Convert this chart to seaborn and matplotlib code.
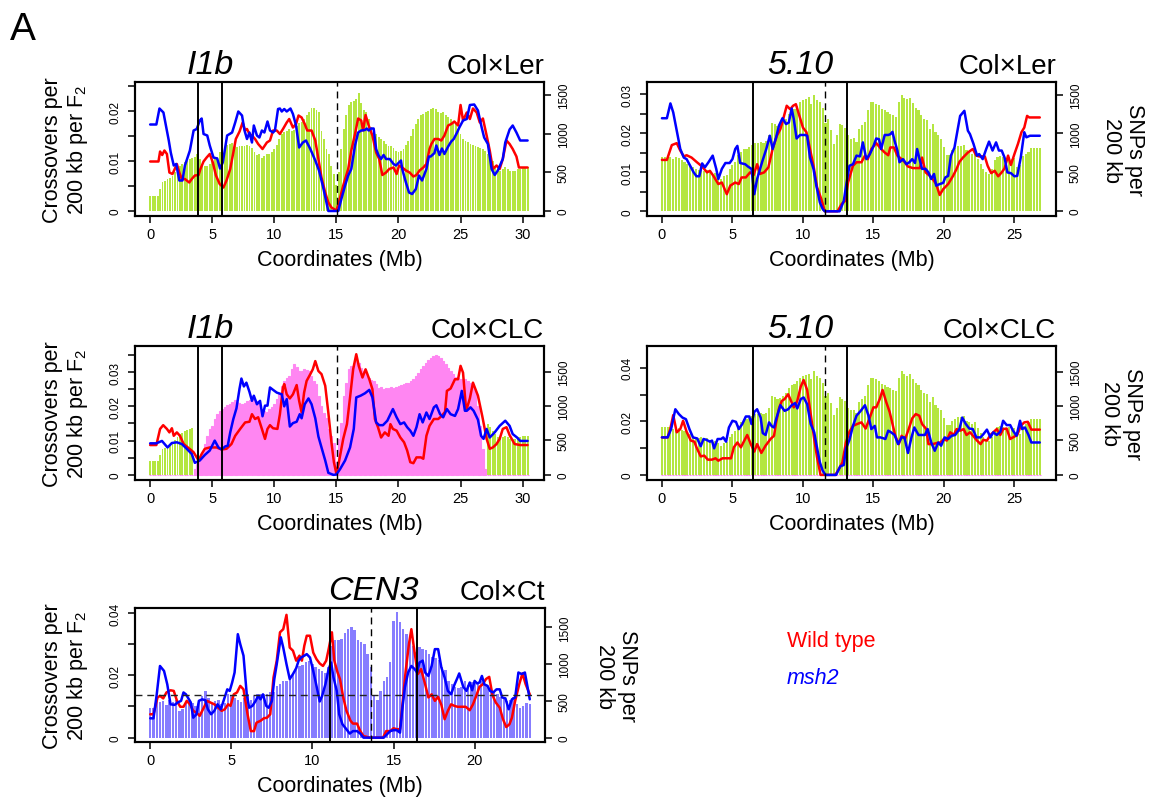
import numpy as np
import matplotlib
matplotlib.use("Agg")
import matplotlib.pyplot as plt
import matplotlib.transforms as mtransforms
import seaborn as sns

sns.set_style("ticks")
plt.rcParams['font.family'] = ['Liberation Sans', 'DejaVu Sans']
plt.rcParams['mathtext.fontset'] = 'custom'
plt.rcParams['mathtext.rm'] = 'Liberation Sans'
plt.rcParams['mathtext.it'] = 'Liberation Sans:italic'
for k in ('text.color', 'axes.labelcolor', 'xtick.color', 'ytick.color', 'axes.edgecolor'):
    plt.rcParams[k] = 'black'

BIN = 0.2  # 200 kb windows (Mb)

# ------------------------------------------------------------------ data
# SNPs per 200 kb window
ler_chr3_snps = [190,190,190,190,285,370,390,415,420,455,500,545,585,610,630,650,670,680,695,735,
                 670,585,580,585,610,650,670,695,760,800,825,855,865,880,835,825,845,845,835,855,
                 835,810,760,725,735,680,705,735,735,765,800,855,930,995,1015,1040,1060,1040,1050,1100,
                 1140,1145,1190,1235,1285,1330,1330,1310,1275,1040,930,800,735,585,480,330,500,800,1060,1235,
                 1370,1405,1425,1450,1520,1400,1300,1285,1190,1080,1040,995,950,930,910,865,845,835,810,780,
                 760,780,800,855,910,975,1060,1125,1190,1235,1255,1275,1295,1320,1330,1320,1285,1265,1275,1235,
                 1210,1190,1145,1125,1060,995,930,910,890,865,855,835,825,810,800,780,735,695,640,585,
                 545,520,545,565,545,520,520,520,545,545,565,565,565]
clc_chr3_snps = [0]*18 + [78,150,223,320,442,563,660,709,806,879,927,951,990,1010,1024,1058,1087,1058,1039,1024,
                 1039,1073,1087,1087,1121,1073,1024,951,927,913,951,990,1024,1097,1170,1291,1364,1413,1437,1534,
                 1607,1573,1510,1510,1534,1524,1510,1437,1364,1316,1146,1000,903,816,660,563,466,175,515,757,
                 1146,1340,1534,1583,1631,1655,1631,1558,1510,1461,1413,1379,1364,1316,1267,1282,1252,1267,1267,1282,
                 1267,1282,1291,1301,1316,1330,1340,1364,1388,1437,1485,1534,1583,1631,1670,1704,1728,1738,1728,1704,
                 1655,1607,1558,1510,1461,1427,1413,1388,1398,1388,1364,1340,1291,1218,1000,709,369,78] + [0]*17
ler_chr5_snps = [697,697,697,697,667,697,684,654,632,611,589,568,546,525,546,512,525,503,469,495,
                 460,417,452,469,546,589,632,718,761,804,804,826,847,882,882,890,882,899,976,1140,
                 1127,1097,1114,1148,1191,1256,1299,1320,1355,1406,1428,1449,1471,1385,1501,1428,1406,1329,1140,1191,
                 1041,869,976,1127,1105,1071,976,933,942,890,1054,1105,1148,1299,1406,1406,1385,1363,1320,1299,
                 1277,1256,1234,1213,1406,1501,1458,1441,1458,1398,1329,1299,1234,1191,1170,1062,1127,1019,976,933,
                 826,718,727,783,813,839,839,856,783,761,740,761,675,611,546,503,482,546,654,697,
                 710,697,684,697,675,684,568,589,710,740,761,813,813,813,813]
clc_chr5_snps = [0]*135
ct_chr3_snps = [400,400,545,491,500,445,509,491,509,364,386,477,455,477,432,509,568,636,536,477,
                500,509,455,477,591,568,536,509,491,536,591,509,568,591,600,591,600,614,627,705,
                736,764,773,841,873,918,977,991,1023,1045,1000,955,932,909,886,964,1250,1327,1327,1341,
                1418,1477,1509,1464,1327,1295,1273,1136,955,568,509,636,773,827,1023,1591,1705,1568,1477,1409,
                1341,1250,1159,1227,1205,1191,1136,1100,1082,1055,955,918,764,736,682,673,691,764,718,750,
                736,750,764,736,705,682,627,591,555,523,500,509,555,455,409,432,477,455]

# Crossovers per 200 kb per F2 : I1b, Col x Ler
i1b_ler_wt_x = [0,0.67,0.8,0.97,1.15,1.35,1.55,1.8,1.98,2.15,2.35,2.55,2.8,3.15,3.35,3.6,3.9,4.05,4.3,4.55,
                4.8,5.05,5.3,5.6,5.9,6.15,6.45,6.7,6.9,7.2,7.45,7.65,7.8,8.0,8.2,8.45,8.7,9.05,9.4,9.65,
                9.9,10.2,10.45,10.7,11.0,11.2,11.5,11.75,11.95,12.2,12.45,12.65,13.0,13.3,13.55,13.8,14.1,14.35,14.6,15.0,
                15.2,15.55,15.95,16.2,16.5,16.75,17.0,17.15,17.35,17.6,17.9,18.2,18.45,18.7,19.0,19.25,19.6,19.85,20.05,20.3,
                20.6,20.9,21.2,21.45,21.7,22.0,22.25,22.5,22.65,22.9,23.2,23.45,23.7,24.0,24.25,24.5,24.8,25.0,25.2,25.5,
                25.75,26.0,26.3,26.55,26.8,27.1,27.35,27.6,27.9,28.15,28.4,28.7,28.95,29.2,29.5,29.7,30.4]
i1b_ler_wt_y = [0.0099,0.0099,0.0119,0.0112,0.0121,0.0114,0.0077,0.0074,0.0084,0.0094,0.0077,0.0064,0.0064,0.0057,0.0064,0.0071,0.0072,0.0084,0.0099,0.0107,
                0.0114,0.0097,0.0071,0.0054,0.0047,0.0061,0.0084,0.0117,0.0144,0.0159,0.0177,0.0161,0.0164,0.0154,0.0151,0.0144,0.0134,0.0124,0.0137,0.0141,
                0.0161,0.0161,0.0154,0.0164,0.0177,0.0184,0.0167,0.0174,0.0191,0.0187,0.0174,0.0161,0.0161,0.0141,0.0104,0.0067,0.0037,0.0017,0.0007,0.0001,
                0.0017,0.0051,0.0084,0.0121,0.0154,0.0185,0.0181,0.0161,0.0192,0.0171,0.0151,0.0117,0.0104,0.0072,0.0077,0.0084,0.0087,0.0074,0.0091,0.0087,
                0.0081,0.0077,0.0069,0.0072,0.0081,0.0087,0.0094,0.0124,0.0134,0.0144,0.0144,0.0141,0.0151,0.0171,0.0174,0.0179,0.0171,0.0212,0.0181,0.0197,
                0.0184,0.0205,0.0197,0.0177,0.0185,0.0151,0.0121,0.0084,0.0091,0.0084,0.0104,0.0141,0.0134,0.0124,0.0109,0.0087,0.0087]
i1b_ler_msh2_x = [0,0.5,0.75,1.07,1.3,1.5,1.66,1.9,2.1,2.35,2.6,2.8,3.2,3.5,3.75,4.0,4.15,4.3,4.6,4.8,
                  5.1,5.4,5.63,5.85,6.2,6.6,6.85,7.1,7.4,7.6,7.8,8.0,8.2,8.35,8.6,8.8,9.0,9.2,9.45,9.65,
                  9.9,10.05,10.3,10.45,10.6,10.8,11.0,11.3,11.5,11.75,12.0,12.3,12.55,12.9,13.3,13.6,13.9,14.2,14.35,15.15,
                  15.4,15.7,15.95,16.2,16.5,16.75,17.0,17.3,17.45,17.6,17.8,18.0,18.2,18.4,18.6,18.8,19.0,19.3,19.6,19.8,
                  20.2,20.3,20.6,20.85,21.1,21.4,21.65,21.9,22.25,22.45,22.6,22.9,23.05,23.3,23.5,23.7,24.0,24.25,24.45,24.7,
                  24.9,25.2,25.5,25.75,26.1,26.4,26.7,26.9,27.2,27.5,27.75,28.0,28.4,28.6,28.95,29.2,29.5,29.8,30.4]
i1b_ler_msh2_y = [0.0173,0.0173,0.0205,0.0197,0.0167,0.0141,0.0117,0.0091,0.0094,0.0061,0.0061,0.0091,0.0121,0.0161,0.0164,0.0181,0.0185,0.0154,0.0151,0.0131,
                  0.0107,0.0105,0.0085,0.0097,0.0151,0.0157,0.0177,0.0199,0.0191,0.0161,0.0144,0.0157,0.0137,0.0171,0.0151,0.0147,0.0161,0.0157,0.0179,0.0161,
                  0.0157,0.0161,0.0204,0.0205,0.0199,0.0204,0.0199,0.0205,0.0194,0.0171,0.0127,0.0137,0.0141,0.0124,0.0101,0.0081,0.0051,0.0017,0.0,0.0,
                  0.0024,0.0051,0.0071,0.0084,0.0131,0.0157,0.0161,0.0162,0.0165,0.0161,0.0165,0.0165,0.0124,0.0111,0.0104,0.0112,0.0104,0.0104,0.0094,0.0091,
                  0.0101,0.0084,0.0057,0.0037,0.0034,0.0044,0.0071,0.0061,0.0084,0.0109,0.0109,0.0116,0.0131,0.0112,0.0125,0.0114,0.0129,0.0139,0.0144,0.0156,
                  0.0167,0.0181,0.0184,0.0212,0.0213,0.0201,0.0167,0.0147,0.0134,0.0084,0.0072,0.0081,0.0104,0.0137,0.0163,0.0171,0.0157,0.0141,0.0141]

# 5.10, Col x Ler
c510_ler_wt_x = [0,0.35,0.7,1.05,1.3,1.55,1.75,2.1,2.45,2.85,3.2,3.4,3.65,4.0,4.25,4.6,4.85,5.2,5.45,5.65,
                 5.95,6.25,6.5,6.75,6.95,7.25,7.55,7.85,8.15,8.4,8.6,8.85,9.1,9.3,9.5,9.75,10.0,10.25,10.5,10.75,
                 11.0,11.3,11.55,12.45,12.75,13.0,13.2,13.55,13.8,14.15,14.4,14.6,14.85,15.2,15.55,15.8,16.05,16.2,16.45,16.7,
                 17.0,17.2,17.45,17.8,18.3,18.45,18.7,19.0,19.2,19.45,19.7,19.95,20.3,20.65,20.9,21.1,21.35,21.7,22.05,22.3,
                 22.5,22.9,23.1,23.35,23.6,23.85,24.1,24.3,24.55,24.75,25.0,25.25,25.5,25.7,25.9,26.05,26.8]
c510_ler_wt_y = [0.0132,0.0132,0.0170,0.0175,0.0156,0.0141,0.0144,0.0138,0.0127,0.0115,0.0100,0.0104,0.0091,0.0070,0.0074,0.0044,0.0066,0.0074,0.0070,0.0087,
                 0.0087,0.0100,0.0093,0.0121,0.0096,0.0100,0.0113,0.0160,0.0194,0.0211,0.0237,0.0271,0.0262,0.0271,0.0275,0.0245,0.0215,0.0203,0.0160,0.0117,
                 0.0062,0.0032,0.0,0.0,0.0019,0.0027,0.0074,0.0117,0.0126,0.0126,0.0143,0.0134,0.0160,0.0175,0.0160,0.0151,0.0144,0.0164,0.0164,0.0143,
                 0.0134,0.0127,0.0115,0.0111,0.0111,0.0138,0.0100,0.0091,0.0083,0.0070,0.0042,0.0057,0.0070,0.0091,0.0109,0.0127,0.0138,0.0151,0.0160,0.0143,
                 0.0141,0.0141,0.0117,0.0098,0.0104,0.0090,0.0100,0.0110,0.0143,0.0119,0.0147,0.0173,0.0203,0.0215,0.0245,0.0241,0.0241]
c510_ler_msh2_x = [0,0.35,0.6,0.8,1.05,1.3,1.55,1.75,2.0,2.25,2.45,2.65,2.85,3.05,3.3,3.6,3.85,4.0,4.25,4.5,
                   4.8,5.0,5.2,5.35,5.55,5.9,6.1,6.35,6.55,6.75,7.1,7.4,7.65,7.85,8.1,8.3,8.55,8.8,9.0,9.2,
                   9.35,9.55,9.8,10.15,10.3,10.5,10.75,10.95,11.2,11.4,11.55,12.6,12.9,13.1,13.3,13.55,13.8,14.05,14.25,14.5,
                   14.75,15.0,15.2,15.4,15.55,15.8,16.05,16.2,16.35,16.5,16.7,16.85,17.1,17.35,17.55,17.75,17.95,18.1,18.3,18.45,
                   18.7,18.9,19.1,19.3,19.45,19.7,19.95,20.1,20.3,20.5,20.75,21.0,21.15,21.45,21.7,21.85,22.1,22.35,22.5,22.75,
                   23.0,23.2,23.45,23.7,23.9,24.1,24.3,24.5,24.75,25.0,25.2,25.45,25.7,25.85,26.1,26.8]
c510_ler_msh2_y = [0.0239,0.0239,0.0277,0.0254,0.0207,0.0160,0.0138,0.0134,0.0117,0.0100,0.0090,0.0090,0.0123,0.0113,0.0126,0.0143,0.0109,0.0083,0.0109,0.0124,
                   0.0124,0.0134,0.0160,0.0168,0.0124,0.0121,0.0115,0.0109,0.0044,0.0083,0.0126,0.0160,0.0194,0.0160,0.0190,0.0220,0.0239,0.0224,0.0228,0.0264,
                   0.0237,0.0187,0.0196,0.0196,0.0194,0.0138,0.0109,0.0066,0.0023,0.0006,0.0,0.0,0.0027,0.0074,0.0117,0.0121,0.0143,0.0141,0.0177,0.0134,
                   0.0147,0.0167,0.0187,0.0185,0.0160,0.0196,0.0196,0.0198,0.0204,0.0181,0.0156,0.0126,0.0134,0.0121,0.0126,0.0134,0.0124,0.0160,0.0130,0.0109,
                   0.0109,0.0100,0.0083,0.0096,0.0066,0.0070,0.0073,0.0087,0.0091,0.0143,0.0164,0.0215,0.0245,0.0258,0.0207,0.0198,0.0173,0.0143,0.0147,0.0134,
                   0.0160,0.0179,0.0156,0.0177,0.0156,0.0156,0.0138,0.0100,0.0098,0.0090,0.0091,0.0138,0.0203,0.0190,0.0194,0.0194]

# I1b, Col x CLC
i1b_clc_wt_x = [0,0.5,0.8,1.05,1.35,1.55,1.75,1.9,2.15,2.4,2.7,3.1,3.5,3.9,4.15,4.4,4.8,5.35,5.75,6.15,
                6.55,6.85,7.25,7.65,8.0,8.2,8.45,8.7,9.0,9.25,9.45,9.65,9.9,10.25,10.45,10.7,10.8,11.0,11.25,11.5,
                11.8,12.0,12.2,12.4,12.6,12.9,13.1,13.3,13.55,13.8,14.1,14.35,14.6,14.8,15.0,15.2,15.55,15.85,16.1,16.35,
                16.6,16.8,17.1,17.35,17.65,17.9,18.1,18.35,18.6,18.9,19.2,19.35,19.55,19.85,20.15,20.45,20.7,20.95,21.2,21.45,
                21.8,22.0,22.25,22.5,22.85,23.2,23.45,23.75,23.9,24.2,24.55,24.8,25.0,25.2,25.45,25.75,26.0,26.4,26.75,27.1,
                27.35,27.6,27.9,28.15,28.4,28.7,28.95,29.35,29.8,30.4]
i1b_clc_wt_y = [0.0087,0.0087,0.0134,0.0145,0.0134,0.0124,0.0136,0.0114,0.0124,0.0114,0.0090,0.0078,0.0066,0.0042,0.0061,0.0076,0.0080,0.0080,0.0074,0.0076,
                0.0090,0.0114,0.0134,0.0153,0.0155,0.0177,0.0163,0.0168,0.0134,0.0105,0.0134,0.0145,0.0136,0.0134,0.0177,0.0255,0.0265,0.0235,0.0223,0.0235,
                0.0262,0.0216,0.0182,0.0240,0.0274,0.0294,0.0308,0.0332,0.0303,0.0294,0.0260,0.0182,0.0095,0.0037,0.0003,0.0037,0.0105,0.0148,0.0226,0.0308,
                0.0352,0.0318,0.0284,0.0308,0.0279,0.0250,0.0163,0.0139,0.0109,0.0124,0.0114,0.0148,0.0134,0.0129,0.0109,0.0095,0.0071,0.0037,0.0034,0.0051,
                0.0051,0.0047,0.0114,0.0143,0.0163,0.0163,0.0171,0.0184,0.0245,0.0252,0.0279,0.0279,0.0318,0.0298,0.0187,0.0223,0.0269,0.0231,0.0171,0.0105,
                0.0076,0.0080,0.0090,0.0105,0.0134,0.0139,0.0116,0.0090,0.0087,0.0087]
i1b_clc_msh2_x = [0,0.5,0.95,1.4,1.75,2.15,2.55,2.95,3.35,3.6,4.0,4.4,4.8,5.2,5.5,5.75,6.05,6.25,6.45,6.7,
                  6.95,7.2,7.35,7.55,7.75,8.0,8.2,8.35,8.6,8.85,9.05,9.25,9.45,9.65,9.9,10.2,10.6,10.8,11.0,11.25,
                  11.5,11.8,12.05,12.2,12.45,12.75,13.0,13.3,13.55,13.8,14.1,14.35,14.75,15.0,15.3,15.7,16.1,16.4,16.6,16.95,
                  17.3,17.65,17.9,18.2,18.45,18.75,19.1,19.55,19.85,20.15,20.45,20.7,20.95,21.2,21.45,21.7,21.95,22.25,22.5,22.85,
                  23.05,23.35,23.6,23.9,24.2,24.55,24.8,25.1,25.35,25.5,25.8,26.05,26.4,26.65,26.85,27.1,27.35,27.75,28.15,28.6,
                  28.95,29.2,29.55,29.8,30.4]
i1b_clc_msh2_y = [0.0092,0.0092,0.0099,0.0080,0.0093,0.0095,0.0090,0.0076,0.0061,0.0035,0.0042,0.0058,0.0071,0.0100,0.0080,0.0074,0.0083,0.0085,0.0124,0.0163,
                  0.0194,0.0252,0.0281,0.0258,0.0269,0.0242,0.0216,0.0231,0.0206,0.0216,0.0171,0.0202,0.0202,0.0255,0.0248,0.0240,0.0235,0.0200,0.0221,0.0141,
                  0.0151,0.0155,0.0177,0.0165,0.0206,0.0223,0.0206,0.0165,0.0112,0.0080,0.0042,0.0006,0.0,0.0001,0.0017,0.0042,0.0080,0.0134,0.0226,0.0231,
                  0.0238,0.0248,0.0226,0.0153,0.0145,0.0145,0.0158,0.0192,0.0168,0.0148,0.0153,0.0139,0.0129,0.0114,0.0139,0.0177,0.0153,0.0182,0.0163,0.0197,
                  0.0203,0.0177,0.0168,0.0192,0.0177,0.0172,0.0192,0.0245,0.0187,0.0187,0.0197,0.0187,0.0161,0.0114,0.0105,0.0134,0.0109,0.0124,0.0143,0.0158,
                  0.0143,0.0119,0.0109,0.0099,0.0099]

# 5.10, Col x CLC
c510_clc_wt_x = [0,0.4,0.6,0.8,1.05,1.3,1.5,1.75,2.05,2.3,2.45,2.75,3.0,3.25,3.55,3.8,4.0,4.3,4.6,4.9,
                 5.1,5.35,5.6,5.9,6.05,6.3,6.55,6.75,7.05,7.35,7.7,7.95,8.1,8.3,8.5,8.7,8.95,9.1,9.35,9.6,
                 9.85,10.05,10.3,10.55,10.8,11.0,11.25,12.3,12.55,12.8,13.05,13.3,13.55,13.85,14.15,14.45,14.7,15.0,15.2,15.45,
                 15.65,15.9,16.15,16.3,16.55,16.8,17.0,17.25,17.5,17.75,18.0,18.25,18.45,18.75,18.9,19.2,19.5,19.75,20.0,20.2,
                 20.45,20.7,20.9,21.15,21.4,21.6,21.85,22.1,22.35,22.6,22.8,23.05,23.3,23.5,23.75,24.0,24.2,24.45,24.7,24.9,
                 25.2,25.45,25.7,25.95,26.2,26.8]
c510_clc_wt_y = [0.0140,0.0140,0.0173,0.0223,0.0159,0.0171,0.0202,0.0161,0.0128,0.0124,0.0103,0.0069,0.0072,0.0057,0.0057,0.0062,0.0053,0.0062,0.0062,0.0062,
                 0.0103,0.0121,0.0103,0.0134,0.0149,0.0115,0.0087,0.0115,0.0082,0.0109,0.0134,0.0146,0.0196,0.0248,0.0276,0.0283,0.0301,0.0283,0.0252,0.0276,
                 0.0330,0.0354,0.0317,0.0227,0.0134,0.0066,0.0,0.0,0.0022,0.0047,0.0121,0.0161,0.0183,0.0190,0.0196,0.0173,0.0208,0.0252,0.0252,0.0283,
                 0.0317,0.0273,0.0235,0.0202,0.0146,0.0115,0.0146,0.0134,0.0171,0.0211,0.0227,0.0221,0.0190,0.0171,0.0115,0.0115,0.0119,0.0121,0.0134,0.0128,
                 0.0159,0.0149,0.0171,0.0165,0.0171,0.0149,0.0159,0.0144,0.0128,0.0115,0.0131,0.0128,0.0149,0.0159,0.0171,0.0149,0.0171,0.0173,0.0134,0.0140,
                 0.0149,0.0183,0.0196,0.0198,0.0169,0.0169]
c510_clc_msh2_x = [0,0.4,0.65,0.95,1.2,1.45,1.7,1.95,2.2,2.5,2.75,2.95,3.15,3.4,3.55,3.7,3.95,4.2,4.35,4.55,
                   4.75,5.0,5.25,5.45,5.7,5.95,6.2,6.35,6.55,6.75,7.0,7.15,7.35,7.6,7.8,7.95,8.1,8.4,8.7,8.95,
                   9.2,9.45,9.6,9.85,10.05,10.3,10.55,10.8,10.95,11.2,11.4,11.6,12.35,12.65,12.9,13.05,13.3,13.55,13.8,14.1,
                   14.4,14.65,14.85,15.1,15.25,15.5,15.85,16.05,16.25,16.5,16.75,17.0,17.2,17.45,17.7,17.9,18.2,18.45,18.65,18.85,
                   19.1,19.35,19.6,19.8,20.05,20.3,20.55,20.8,21.1,21.3,21.55,21.8,22.05,22.3,22.6,22.8,23.05,23.3,23.5,23.75,
                   24.0,24.2,24.45,24.7,24.9,25.15,25.4,25.55,25.75,26.0,26.2,26.8]
c510_clc_msh2_y = [0.0140,0.0140,0.0171,0.0245,0.0227,0.0214,0.0208,0.0171,0.0140,0.0136,0.0107,0.0134,0.0131,0.0124,0.0128,0.0099,0.0134,0.0134,0.0140,0.0124,
                   0.0177,0.0202,0.0198,0.0171,0.0190,0.0218,0.0218,0.0190,0.0235,0.0245,0.0214,0.0156,0.0149,0.0196,0.0181,0.0177,0.0208,0.0260,0.0239,0.0245,
                   0.0260,0.0268,0.0248,0.0283,0.0289,0.0264,0.0190,0.0159,0.0115,0.0047,0.0016,0.0,0.0,0.0032,0.0037,0.0097,0.0131,0.0183,0.0221,0.0239,
                   0.0260,0.0221,0.0171,0.0183,0.0140,0.0140,0.0134,0.0165,0.0159,0.0149,0.0115,0.0140,0.0140,0.0082,0.0140,0.0177,0.0149,0.0149,0.0149,0.0171,
                   0.0121,0.0090,0.0121,0.0109,0.0140,0.0134,0.0146,0.0149,0.0171,0.0214,0.0190,0.0173,0.0171,0.0140,0.0140,0.0152,0.0169,0.0140,0.0159,0.0149,
                   0.0161,0.0202,0.0186,0.0186,0.0165,0.0146,0.0202,0.0171,0.0177,0.0149,0.0121,0.0121]

# CEN3, Col x Ct
cen3_ct_wt_x = [0,0.2,0.45,0.6,0.8,1.0,1.25,1.45,1.65,1.85,2.05,2.25,2.45,2.65,2.85,3.05,3.3,3.5,3.7,3.95,
                4.2,4.4,4.6,4.8,4.95,5.15,5.35,5.55,5.75,5.9,6.0,6.2,6.4,6.55,6.8,7.0,7.2,7.4,7.6,7.8,
                8.0,8.2,8.4,8.6,8.8,9.0,9.2,9.35,9.5,9.65,9.85,10.05,10.25,10.45,10.65,10.85,11.0,11.2,11.35,11.55,
                11.7,11.9,12.1,12.35,12.5,12.75,12.95,13.15,13.55,14.35,14.55,14.8,15.0,15.2,15.4,15.55,15.75,15.95,16.1,16.3,
                16.5,16.7,16.95,17.15,17.35,17.55,17.75,17.95,18.15,18.35,18.55,18.75,18.95,19.15,19.45,19.7,19.9,20.1,20.3,20.5,
                20.7,20.9,21.1,21.3,21.55,21.75,21.95,22.15,22.3,22.5,22.75,22.95,23.15,23.4]
cen3_ct_wt_y = [0.0075,0.0075,0.0129,0.0134,0.0126,0.0145,0.0152,0.0150,0.0118,0.0099,0.0099,0.0118,0.0107,0.0086,0.0080,0.0070,0.0096,0.0118,0.0113,0.0107,
                0.0096,0.0086,0.0091,0.0107,0.0102,0.0139,0.0145,0.0166,0.0155,0.0107,0.0075,0.0021,0.0021,0.0048,0.0054,0.0062,0.0064,0.0075,0.0193,0.0247,
                0.0338,0.0348,0.0394,0.0289,0.0279,0.0247,0.0263,0.0247,0.0295,0.0327,0.0327,0.0273,0.0252,0.0238,0.0230,0.0247,0.0284,0.0338,0.0247,0.0209,
                0.0188,0.0129,0.0086,0.0054,0.0045,0.0045,0.0021,0.0005,0.0,0.0,0.0021,0.0021,0.0030,0.0027,0.0027,0.0107,0.0214,0.0300,0.0348,0.0273,
                0.0204,0.0220,0.0171,0.0129,0.0139,0.0118,0.0131,0.0105,0.0059,0.0086,0.0107,0.0102,0.0099,0.0099,0.0099,0.0088,0.0107,0.0134,0.0163,0.0171,
                0.0188,0.0195,0.0137,0.0113,0.0096,0.0059,0.0034,0.0043,0.0064,0.0118,0.0171,0.0206,0.0171,0.0139]
cen3_ct_msh2_x = [0,0.2,0.4,0.6,0.85,1.05,1.25,1.5,1.7,1.9,2.05,2.2,2.35,2.5,2.65,2.85,3.0,3.2,3.4,3.55,
                  3.75,3.95,4.15,4.35,4.55,4.75,4.9,5.05,5.2,5.4,5.55,5.75,5.95,6.1,6.3,6.5,6.65,6.8,6.95,7.15,
                  7.3,7.5,7.65,7.8,8.05,8.2,8.4,8.6,8.8,9.0,9.15,9.3,9.5,9.65,9.85,10.05,10.25,10.45,10.6,10.8,
                  11.0,11.15,11.3,11.5,11.65,11.85,12.05,12.3,12.5,12.75,12.95,13.15,14.4,14.6,14.8,15.0,15.2,15.4,15.55,15.7,
                  15.9,16.1,16.3,16.45,16.6,16.8,16.95,17.15,17.35,17.55,17.75,17.95,18.15,18.35,18.55,18.75,18.95,19.05,19.3,19.5,
                  19.7,19.85,20.0,20.15,20.3,20.45,20.6,20.8,20.95,21.15,21.35,21.55,21.7,21.9,22.1,22.3,22.5,22.7,22.9,23.1,23.4]
cen3_ct_msh2_y = [0.0062,0.0062,0.0139,0.0230,0.0214,0.0171,0.0107,0.0105,0.0113,0.0118,0.0145,0.0139,0.0126,0.0113,0.0064,0.0075,0.0118,0.0123,0.0120,0.0091,
                  0.0075,0.0086,0.0107,0.0091,0.0123,0.0155,0.0150,0.0177,0.0209,0.0332,0.0300,0.0263,0.0139,0.0096,0.0102,0.0118,0.0134,0.0123,0.0139,0.0102,
                  0.0096,0.0118,0.0188,0.0236,0.0322,0.0289,0.0236,0.0188,0.0204,0.0223,0.0247,0.0257,0.0263,0.0268,0.0257,0.0214,0.0166,0.0116,0.0134,0.0171,
                  0.0220,0.0241,0.0193,0.0150,0.0075,0.0043,0.0030,0.0013,0.0021,0.0021,0.0013,0.0,0.0,0.0011,0.0021,0.0024,0.0024,0.0016,0.0096,0.0161,
                  0.0209,0.0230,0.0220,0.0209,0.0241,0.0247,0.0209,0.0198,0.0230,0.0284,0.0284,0.0225,0.0193,0.0150,0.0139,0.0169,0.0193,0.0206,0.0163,0.0150,
                  0.0177,0.0152,0.0182,0.0174,0.0177,0.0198,0.0171,0.0166,0.0150,0.0145,0.0155,0.0155,0.0129,0.0126,0.0091,0.0123,0.0129,0.0209,0.0204,0.0209,0.0123]

# interval boundaries (solid) and centromere midpoints (dashed), Mb
i1b_bounds = [3.89, 5.76]
i1b_centre = 15.07
c510_bounds = [6.46, 13.14]
c510_centre = 11.6
cen3_bounds = [11.06, 16.46]
cen3_centre = 13.6
ct_average = 0.0136

# ------------------------------------------------------------------ style
GREEN = '#B4E640'
PINK = '#FF86F2'
PURPLE = '#877DFF'
RED = '#FF0000'
BLUE = '#0000FF'

W, H = 1152, 803
fig = plt.figure(figsize=(W / 100, H / 100), dpi=100)
fig.patch.set_facecolor('white')


def rect(l, t, r, b):
    return [l / W, 1 - b / H, (r - l) / W, (b - t) / H]


def draw_panel(box, layers, wt, mut, bounds, centre, xlim, ylim_co, ylim_snp,
               co_ticks, co_labels, xticks, name, cross, hline=None):
    ax = fig.add_axes(rect(*box))
    ax2 = ax.twinx()
    ax.set_zorder(ax2.get_zorder() + 1)
    ax.patch.set_visible(False)
    ax2.patch.set_facecolor('white')

    for vals, color, lw in layers:
        vals = np.asarray(vals, dtype=float)
        pos = np.arange(len(vals)) * BIN
        ax2.bar(pos, vals, width=BIN * 0.75, color=color, linewidth=lw,
                edgecolor=color, align='center')

    sns.lineplot(x=wt[0], y=wt[1], color=RED, lw=1.8, ax=ax, estimator=None, sort=False)
    sns.lineplot(x=mut[0], y=mut[1], color=BLUE, lw=1.8, ax=ax, estimator=None, sort=False)

    for b in bounds:
        ax.axvline(b, color='black', lw=1.4)
    ax.axvline(centre, color='black', lw=1.0, ls=(0, (5, 3.5)))
    if hline is not None:
        ax.axhline(hline, color='#222222', lw=1.0, ls=(0, (5, 3.5)))

    ax.set_xlim(*xlim)
    ax.set_ylim(*ylim_co)
    ax2.set_ylim(*ylim_snp)

    ax.set_xticks(xticks)
    ax.set_xticklabels([str(int(t)) for t in xticks])
    ax.set_yticks(co_ticks)
    ax.set_yticklabels(co_labels, rotation=90, va='center', ha='right')
    ax2.set_yticks([0, 500, 1000, 1500])
    ax2.set_yticklabels(['0', '500', '1000', '1500'], rotation=90, va='center', ha='left')

    ax.tick_params(axis='x', direction='out', length=5, width=1.1, labelsize=10.5, pad=3)
    ax.tick_params(axis='y', direction='out', length=5, width=1.1, labelsize=8.5, pad=5)
    ax2.tick_params(axis='y', direction='out', length=5, width=1.1, labelsize=8.5, pad=5)
    ax.set_xlabel('Coordinates (Mb)', fontsize=15.5, labelpad=6)
    ax.set_ylabel('')
    ax2.set_ylabel('')
    for a in (ax, ax2):
        for s in a.spines.values():
            s.set_visible(True)
            s.set_linewidth(1.5)
            s.set_color('black')

    trans = mtransforms.blended_transform_factory(ax.transData, ax.transAxes)
    ty = 1 + 9 / (box[3] - box[1])
    ax.text(np.mean(bounds), ty, name, transform=trans, ha='center', va='baseline',
            fontsize=24.5, style='italic')
    ax.text(1.0, ty, cross, transform=ax.transAxes, ha='right', va='baseline', fontsize=20)
    return ax


co_lab_small = ['0', '', '0.01', '', '0.02', '', '0.03', '']

# Row 1
draw_panel((135, 83, 544, 217), [(ler_chr3_snps, GREEN, 0)],
           (i1b_ler_wt_x, i1b_ler_wt_y), (i1b_ler_msh2_x, i1b_ler_msh2_y),
           i1b_bounds, i1b_centre, (-1.22, 31.72), (-0.001, 0.0258), (-65, 1667),
           np.arange(6) * 0.005, co_lab_small[:6], [0, 5, 10, 15, 20, 25, 30], 'I1b', 'Col×Ler')
draw_panel((647, 83, 1056, 217), [(ler_chr5_snps, GREEN, 0)],
           (c510_ler_wt_x, c510_ler_wt_y), (c510_ler_msh2_x, c510_ler_msh2_y),
           c510_bounds, c510_centre, (-1.06, 27.95), (-0.0012, 0.0332), (-62, 1662),
           np.arange(7) * 0.005, co_lab_small[:7], [0, 5, 10, 15, 20, 25], '5.10', 'Col×Ler')

# Row 2
clc3 = np.asarray(clc_chr3_snps, dtype=float)
ler3_outside = np.where(clc3 > 0, 0.0, np.asarray(ler_chr3_snps, dtype=float))
draw_panel((135, 347, 544, 481), [(ler3_outside, GREEN, 0), (clc3, PINK, 0.8)],
           (i1b_clc_wt_x, i1b_clc_wt_y), (i1b_clc_msh2_x, i1b_clc_msh2_y),
           i1b_bounds, i1b_centre, (-1.22, 31.72), (-0.0015, 0.0376), (-80, 1872),
           np.arange(8) * 0.005, co_lab_small[:8], [0, 5, 10, 15, 20, 25, 30], 'I1b', 'Col×CLC')
draw_panel((647, 347, 1056, 481), [(ler_chr5_snps, GREEN, 0), (clc_chr5_snps, PINK, 0.8)],
           (c510_clc_wt_x, c510_clc_wt_y), (c510_clc_msh2_x, c510_clc_msh2_y),
           c510_bounds, c510_centre, (-1.06, 27.95), (-0.0019, 0.0481), (-80, 1872),
           np.arange(5) * 0.01, ['0', '', '0.02', '', '0.04'], [0, 5, 10, 15, 20, 25], '5.10', 'Col×CLC')

# Row 3
draw_panel((135, 609, 545, 743), [(ct_chr3_snps, PURPLE, 0)],
           (cen3_ct_wt_x, cen3_ct_wt_y), (cen3_ct_msh2_x, cen3_ct_msh2_y),
           cen3_bounds, cen3_centre, (-0.94, 24.34), (-0.0014, 0.0416), (-60, 1764),
           np.arange(5) * 0.01, ['0', '', '0.02', '', '0.04'], [0, 5, 10, 15, 20], 'CEN3', 'Col×Ct',
           hline=ct_average)

# Axis titles
left_lab = 'Crossovers per\n200 kb per F$_2$'
right_lab = 'SNPs per\n200 kb'
for yc in (150, 414, 676):
    fig.text(66 / W, 1 - yc / H, left_lab, rotation=90, ha='center', va='center',
             fontsize=15.5, linespacing=1.15, multialignment='center')
for xc, yc in ((1123, 150), (1121, 414), (616, 676)):
    fig.text(xc / W, 1 - yc / H, right_lab, rotation=270, ha='center', va='center',
             fontsize=15.5, linespacing=1.15, multialignment='center')

# Panel letter and legend text
fig.text(10 / W, 1 - 40 / H, 'A', fontsize=28, ha='left', va='baseline')
fig.text(787 / W, 1 - 642 / H, 'Wild type', color=RED, fontsize=15.5, ha='left', va='center')
fig.text(787 / W, 1 - 678 / H, 'msh2', color=BLUE, fontsize=15.5, ha='left', va='center',
         style='italic')

fig.savefig('out.png', dpi=100, facecolor='white')
